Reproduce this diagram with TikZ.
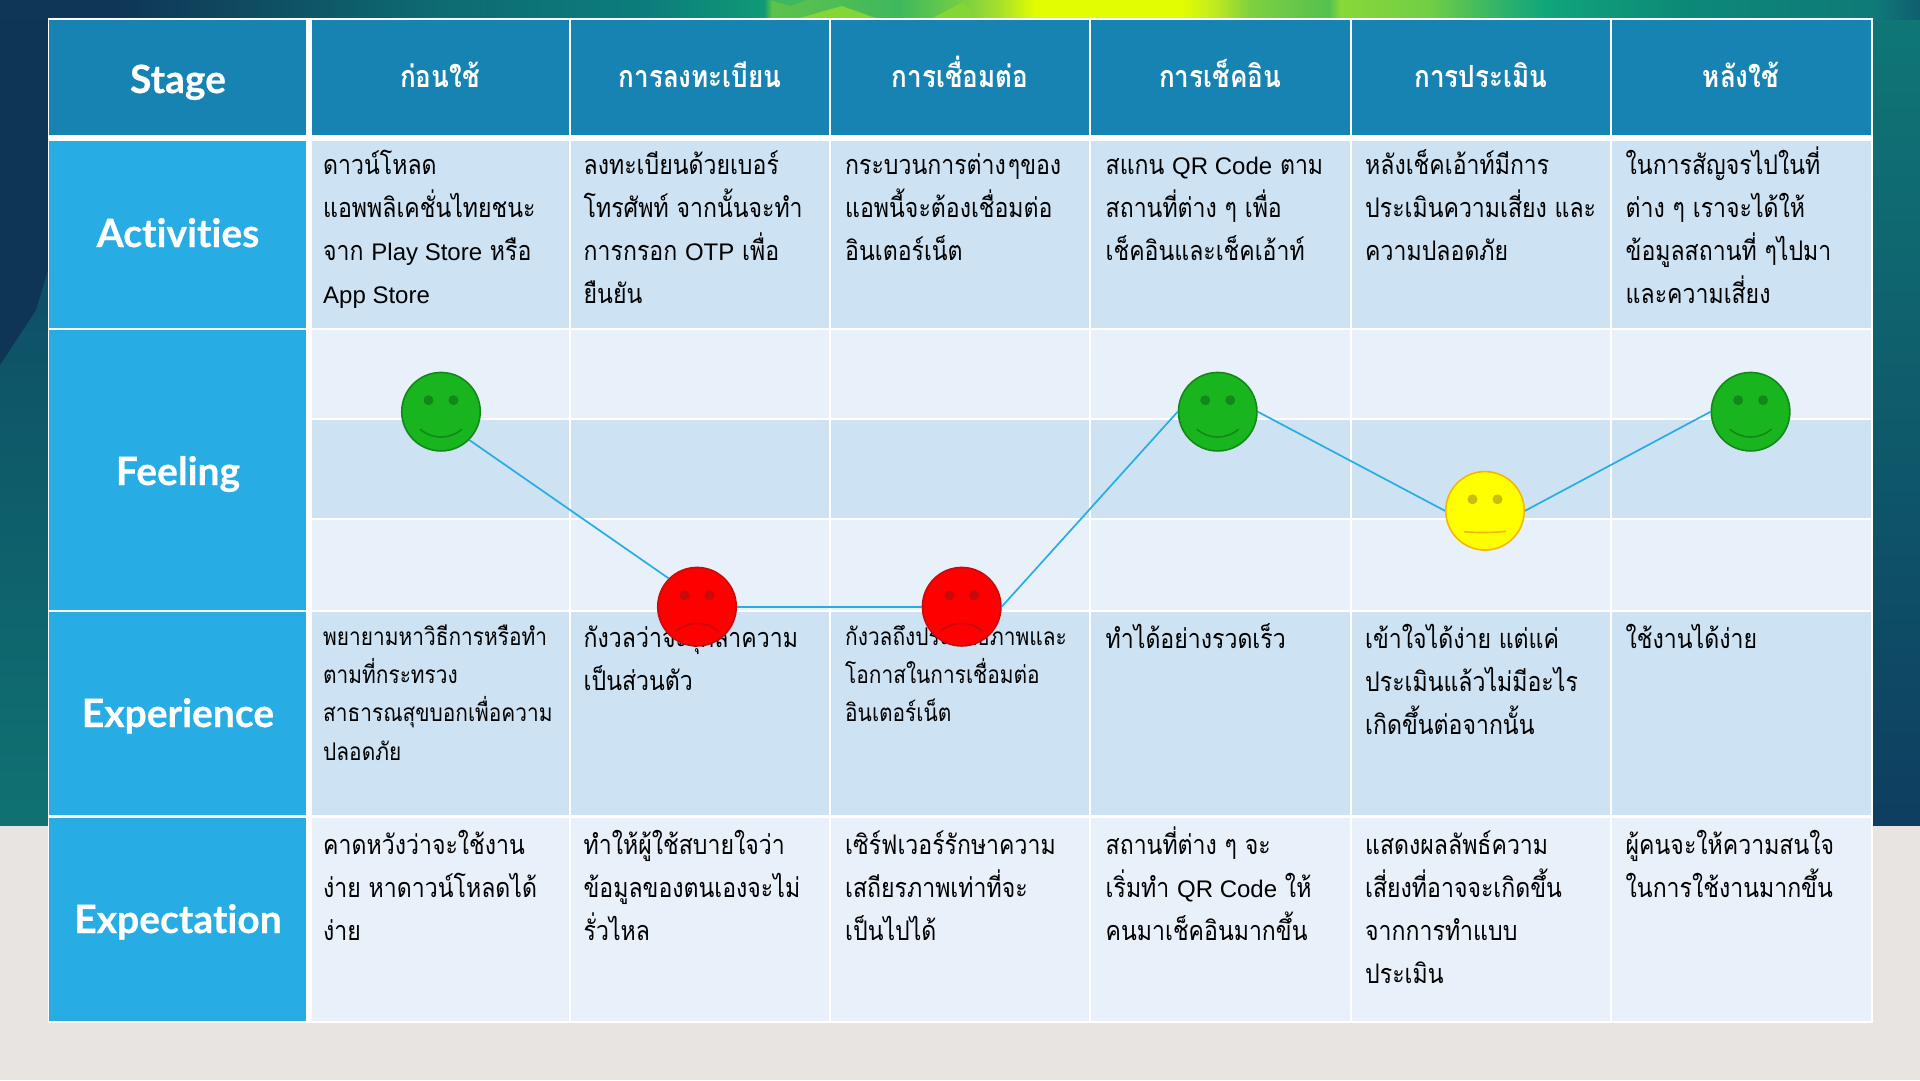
\documentclass[tikz,border=0pt]{standalone}
\usepackage{fontspec}
\setmainfont{Liberation Sans}
\newfontfamily\thaifont[Script=Thai,FakeStretch=0.855]{Loma}
\newfontfamily\labelfont[Ligatures=NoCommon,BoldFeatures={FakeBold=0.5}]{Lato}
\newfontfamily\latinfont{Liberation Sans}
\definecolor{hdr}{HTML}{1783B3}
\definecolor{lab}{HTML}{27ACE3}
\definecolor{cA}{HTML}{CDE2F3}
\definecolor{cB}{HTML}{E8F0F9}
\definecolor{paper}{HTML}{E7E4E1}
\definecolor{navy}{HTML}{0F3554}
\definecolor{bA}{HTML}{0F3656}
\definecolor{bB}{HTML}{0E6A72}
\definecolor{bC}{HTML}{0C7D7C}
\definecolor{bD}{HTML}{0F9A75}
\definecolor{bE}{HTML}{5FC24A}
\definecolor{bE2}{HTML}{3EB85E}
\definecolor{bF}{HTML}{70CC45}
\definecolor{bF2}{HTML}{A8E02A}
\definecolor{bG}{HTML}{E2FD00}
\definecolor{bH}{HTML}{C0EA20}
\definecolor{bI}{HTML}{7ED040}
\definecolor{bI2}{HTML}{55C050}
\definecolor{bJ}{HTML}{88D838}
\definecolor{bJ2}{HTML}{72CE45}
\definecolor{bK}{HTML}{30B36A}
\definecolor{bL}{HTML}{10A67A}
\definecolor{bM}{HTML}{0C8878}
\definecolor{bM2}{HTML}{0F7A78}
\definecolor{bN}{HTML}{0F5E70}
\definecolor{facetL}{HTML}{85D536}
\definecolor{facetD}{HTML}{3DB860}
\definecolor{lowL}{HTML}{0F7272}
\definecolor{upL}{HTML}{0E4E66}
\definecolor{topR}{HTML}{0F7877}
\definecolor{lowR}{HTML}{0E3E60}
\definecolor{gFill}{HTML}{19B51E}
\definecolor{gLine}{HTML}{14871A}
\definecolor{rFill}{HTML}{FF0000}
\definecolor{rLine}{HTML}{C80A0A}
\definecolor{yFill}{HTML}{FFFF00}
\definecolor{yLine}{HTML}{F5B800}
\definecolor{yEye}{HTML}{C8BE10}
% x stops: 25 + px/38.4
\pgfdeclarehorizontalshading{topband}{100bp}{color(0bp)=(bA);color(25bp)=(bA);color(28.1bp)=(bA);
 color(36.2bp)=(bB);color(41.9bp)=(bC);color(44.9bp)=(bD);color(45.1bp)=(bE);color(48.4bp)=(bE2);
 color(49.9bp)=(bF);color(51.04bp)=(bF2);color(51.95bp)=(bG);color(55.76bp)=(bG);color(56.64bp)=(bH);
 color(57.55bp)=(bI);color(59.6bp)=(bI2);color(59.9bp)=(bJ);color(62.2bp)=(bJ2);color(64.06bp)=(bK);
 color(65.2bp)=(bL);color(69bp)=(bM);color(73.75bp)=(bM2);color(75bp)=(bN);color(100bp)=(bN)}
\tikzset{
  hline/.style={draw=lab,line width=1.7pt},
  face/.style={circle,minimum size=78.5pt,inner sep=0pt,line width=1.6pt},
  happy/.style={face,fill=gFill,draw=gLine},
  sad/.style={face,fill=rFill,draw=rLine},
  plain/.style={face,fill=yFill,draw=yLine},
  stagelabel/.style={font=\labelfont\bfseries\fontsize{39}{44}\selectfont,text=white,anchor=base,inner sep=0pt},
  headtext/.style={font=\thaifont\bfseries\fontsize{30.5}{36}\selectfont,text=white,anchor=base,inner sep=0pt},
  celltext/.style={font=\thaifont\fontsize{27}{43}\selectfont,text=black,anchor=base west,inner sep=0pt},
  celltextsmall/.style={font=\thaifont\fontsize{24.4}{38}\selectfont,text=black,anchor=base west,inner sep=0pt},
}
\newcommand\tl[1]{\hbox{#1}}
\newcommand\lat[1]{{\latinfont\fontsize{24}{24}\selectfont #1}}
\newcommand\blk[2]{\vtop{\baselineskip=#1pt\lineskiplimit=-100pt #2}}
\newcommand\mEyes[2]{%
  \fill[#2] ([shift={(-12.5,-11.5)}]#1.center) circle (5);
  \fill[#2] ([shift={(12.5,-11.5)}]#1.center) circle (5);}
\newcommand\mSmile[2]{\draw[#2,line width=1.6pt] ([shift={(-21,17.5)}]#1.center) .. controls ([shift={(-8,28)}]#1.center) and ([shift={(8,28)}]#1.center) .. ([shift={(21,17.5)}]#1.center);}
\newcommand\mFrown[2]{\draw[#2,line width=1.6pt] ([shift={(-21,24.5)}]#1.center) .. controls ([shift={(-8,14)}]#1.center) and ([shift={(8,14)}]#1.center) .. ([shift={(21,24.5)}]#1.center);}
\newcommand\mFlat[2]{\draw[#2,line width=1.6pt] ([shift={(-21,21)}]#1.center) .. controls ([shift={(-7,22)}]#1.center) and ([shift={(7,22)}]#1.center) .. ([shift={(21,20.5)}]#1.center);}
\begin{document}
\begin{tikzpicture}[x=1pt,y=-1pt]
\useasboundingbox (0,0) rectangle (1920,1080);
% background
\fill[paper] (0,0) rectangle (1920,1080);
\shade[top color=upL,bottom color=lowL] (0,260) rectangle (48,825);
\fill[navy] (0,0) -- (48,0) -- (48,270) -- (36,310) -- (0,365) -- cycle;
\shade[top color=topR,bottom color=lowR] (1872,0) rectangle (1920,825);
\shade[shading=topband] (0,0) rectangle (1920,19);
\fill[facetL] (796,19) -- (842,6) -- (878,19) -- cycle;
\fill[facetL] (931,19) -- (963,2) -- (978,19) -- cycle;
\fill[facetD] (770,0) -- (806,0) -- (790,6) -- cycle;
% table
\fill[white] (47.5,18) rectangle (1872.5,1023);
\foreach \xa/\xb in {49/306,312/568.5,570.5/829,831/1089,1091/1349.5,1351.5/1610,1612/1870.5}{
  \fill[hdr] (\xa,20) rectangle (\xb,135);}
\foreach \ya/\yb in {141/328,330/609.5,612/815,817.5/1020.5}{
  \fill[lab] (49,\ya) rectangle (306,\yb);}
\foreach \xa/\xb in {312/568.5,570.5/829,831/1089,1091/1349.5,1351.5/1610,1612/1870.5}{
  \fill[cA] (\xa,141) rectangle (\xb,328);
  \fill[cB] (\xa,330) rectangle (\xb,417.5);
  \fill[cA] (\xa,419.5) rectangle (\xb,517.5);
  \fill[cB] (\xa,519.5) rectangle (\xb,609.5);
  \fill[cA] (\xa,612) rectangle (\xb,815);
  \fill[cB] (\xa,817.5) rectangle (\xb,1020.5);}
% row labels
\node[stagelabel] (lStage) at (178,93) {Stage};
\node[stagelabel] (lAct) at (178,247) {Activities};
\node[stagelabel] (lFeel) at (178,485) {Feeling};
\node[stagelabel] (lExp) at (178,727) {Experience};
\node[stagelabel] (lExpc) at (178,933) {Expectation};
% column heads
\node[headtext] (h1) at (440,87) {ก่อนใช้};
\node[headtext] (h2) at (700,87) {การลงทะเบียน};
\node[headtext] (h3) at (960,87) {การเชื่อมต่อ};
\node[headtext] (h4) at (1220,87) {การเช็คอิน};
\node[headtext] (h5) at (1481,87) {การประเมิน};
\node[headtext] (h6) at (1741,87) {หลังใช้};
% activities
\node[celltext] (a1) at (323,174) {\blk{43}{\tl{ดาวน์โหลด}\tl{แอพพลิเคชั่นไทยชนะ}\tl{จาก \lat{Play Store} หรือ}\tl{\lat{App Store}}}};
\node[celltext] (a2) at (583.5,174) {\blk{43}{\tl{ลงทะเบียนด้วยเบอร์}\tl{โทรศัพท์ จากนั้นจะทำ}\tl{การกรอก \lat{OTP} เพื่อ}\tl{ยืนยัน}}};
\node[celltext] (a3) at (845,174) {\blk{43}{\tl{กระบวนการต่าง\kern2pt ๆของ}\tl{แอพนี้จะต้องเชื่อมต่อ}\tl{อินเตอร์เน็ต}}};
\node[celltext] (a4) at (1105.5,174) {\blk{43}{\tl{สแกน \lat{QR Code} ตาม}\tl{สถานที่ต่าง ๆ เพื่อ}\tl{เช็คอินและเช็คเอ้าท์}}};
\node[celltext] (a5) at (1365,174) {\blk{43}{\tl{หลังเช็คเอ้าท์มีการ}\tl{ประเมินความเสี่ยง และ}\tl{ความปลอดภัย}}};
\node[celltext] (a6) at (1625.5,174) {\blk{43}{\tl{ในการสัญจรไปในที่}\tl{ต่าง ๆ เราจะได้ให้}\tl{ข้อมูลสถานที่ ๆไปมา}\tl{และความเสี่ยง}}};
% experience
\node[celltextsmall] (e1) at (323,645) {\blk{38.4}{\tl{พยายามหาวิธีการหรือทำ}\tl{ตามที่กระทรวง}\tl{สาธารณสุขบอกเพื่อความ}\tl{ปลอดภัย}}};
\node[celltext] (e2) at (583.5,647.5) {\blk{43}{\tl{กังวลว่าจะรุกล้ำความ}\tl{เป็นส่วนตัว}}};
\node[celltextsmall] (e3) at (845,645) {\blk{38.4}{\tl{กังวลถึงประสิทธิภาพและ}\tl{โอกาสในการเชื่อมต่อ}\tl{อินเตอร์เน็ต}}};
\node[celltext] (e4) at (1105.5,648) {\blk{43}{\tl{ทำได้อย่างรวดเร็ว}}};
\node[celltext] (e5) at (1365,648) {\blk{43}{\tl{เข้าใจได้ง่าย แต่แค่}\tl{ประเมินแล้วไม่มีอะไร}\tl{เกิดขึ้นต่อจากนั้น}}};
\node[celltext] (e6) at (1625.5,648) {\blk{43}{\tl{ใช้งานได้ง่าย}}};
% expectation
\node[celltext] (x1) at (323,854) {\blk{43}{\tl{คาดหวังว่าจะใช้งาน}\tl{ง่าย หาดาวน์โหลดได้}\tl{ง่าย}}};
\node[celltext] (x2) at (583.5,854) {\blk{43}{\tl{ทำให้ผู้ใช้สบายใจว่า}\tl{ข้อมูลของตนเองจะไม่}\tl{รั่วไหล}}};
\node[celltext] (x3) at (845,854) {\blk{43}{\tl{เซิร์ฟเวอร์รักษาความ}\tl{เสถียรภาพเท่าที่จะ}\tl{เป็นไปได้}}};
\node[celltext] (x4) at (1105.5,854) {\blk{43}{\tl{สถานที่ต่าง ๆ จะ}\tl{เริ่มทำ \lat{QR Code} ให้}\tl{คนมาเช็คอินมากขึ้น}}};
\node[celltext] (x5) at (1365,854) {\blk{43}{\tl{แสดงผลลัพธ์ความ}\tl{เสี่ยงที่อาจจะเกิดขึ้น}\tl{จากการทำแบบ}\tl{ประเมิน}}};
\node[celltext] (x6) at (1625.5,854) {\blk{43}{\tl{ผู้คนจะให้ความสนใจ}\tl{ในการใช้งานมากขึ้น}}};
% faces
\node[happy] (g1) at (441,411.7) {};
\node[sad] (r1) at (697,606.7) {};
\node[sad] (r2) at (961.7,606.7) {};
\node[happy] (g2) at (1217.7,411.7) {};
\node[plain] (y1) at (1485,510.8) {};
\node[happy] (g3) at (1750.6,411.7) {};
\draw[hline] (g1.south east) -- (r1.north west);
\draw[hline,line width=2.4pt] (r1.east) -- (r2.west);
\draw[hline] (r2.east) -- (g2.west);
\draw[hline] (g2.east) -- (y1.west);
\draw[hline] (y1.east) -- (g3.west);
\mEyes{g1}{gLine}\mSmile{g1}{gLine}
\mEyes{g2}{gLine}\mSmile{g2}{gLine}
\mEyes{g3}{gLine}\mSmile{g3}{gLine}
\mEyes{r1}{rLine}\mFrown{r1}{rLine}
\mEyes{r2}{rLine}\mFrown{r2}{rLine}
\mEyes{y1}{yEye}\mFlat{y1}{yLine}
\end{tikzpicture}
\end{document}
